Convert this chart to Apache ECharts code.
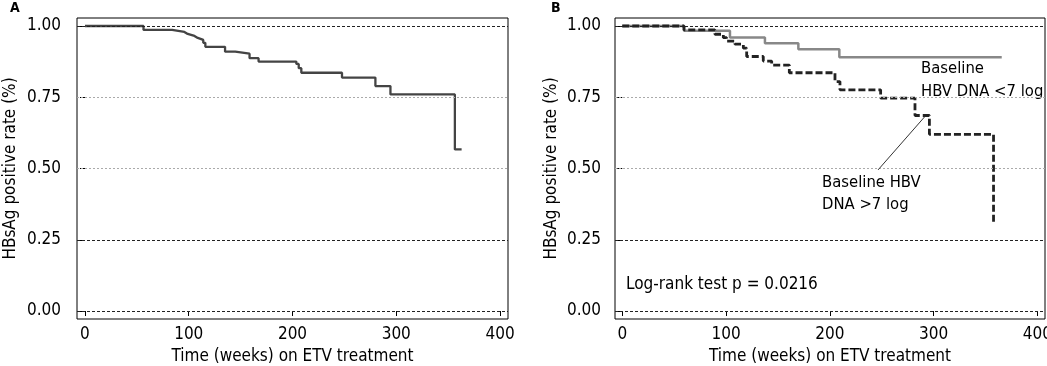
<!DOCTYPE html>
<html>
<head>
<meta charset="utf-8">
<script src="https://cdn.jsdelivr.net/npm/echarts@6/dist/echarts.min.js"></script>
<style>
html,body{margin:0;padding:0;background:#fff;}
#chart{width:1047px;height:366px;}
</style>
</head>
<body>
<div id="chart"></div>
<script>
// ---- data ----
const xTicks = [0, 100, 200, 300, 400];
const yTicks = [0, 0.25, 0.5, 0.75, 1];

// Panel A: overall
const aTimes = [0, 56.4, 84, 95.8, 99, 105.5, 108.7, 114, 116, 135, 144.8, 158.6, 167.3, 203.7, 206, 208.5, 247.7, 279.9, 294.4, 356.5, 363];
const aRates = [1.0, 0.986, 0.979, 0.972, 0.965, 0.958, 0.951, 0.941, 0.927, 0.910, 0.903, 0.887, 0.875, 0.867, 0.852, 0.836, 0.819, 0.789, 0.760, 0.567, 0.567];

// Panel B: baseline HBV DNA <7 log
const lowTimes = [0, 59.5, 103.8, 137.5, 169.7, 209.2, 365.7];
const lowRates = [1.0, 0.983, 0.960, 0.939, 0.918, 0.890, 0.890];

// Panel B: baseline HBV DNA >7 log
const highTimes = [0, 59.5, 89.3, 97.4, 100.6, 108.6, 116.7, 119.9, 135.9, 144, 161, 205, 209.8, 249, 282.1, 296, 357.8];
const highRates = [1.0, 0.986, 0.971, 0.959, 0.947, 0.936, 0.922, 0.893, 0.877, 0.863, 0.836, 0.805, 0.776, 0.747, 0.686, 0.620, 0.308];

// annotation pointer line (data coords)
const pointerX = [246.5, 291.8];
const pointerY = [0.495, 0.683];

const zip = (xs, ys) => xs.map((x, i) => [x, ys[i]]);

const FONT = "'DejaVu Sans Condensed', 'DejaVu Sans', sans-serif";
const TXT = '#000';

function gridLines() {
  const dark = {color: '#222', type: [3, 2], width: 1};
  const light = {color: '#aaa', type: [2, 2], width: 1};
  return {
    silent: true,
    symbol: 'none',
    label: {show: false},
    animation: false,
    data: [
      {yAxis: 0, lineStyle: dark},
      {yAxis: 0.25, lineStyle: dark},
      {yAxis: 0.5, lineStyle: light},
      {yAxis: 0.75, lineStyle: light},
      {yAxis: 1, lineStyle: dark}
    ]
  };
}

function xAxisCfg(idx, min, max) {
  return {
    type: 'value', gridIndex: idx, min: min, max: max,
    splitLine: {show: false},
    axisLine: {show: false},
    axisTick: {show: true, customValues: xTicks, length: 5, lineStyle: {color: '#000'}},
    axisLabel: {customValues: xTicks, fontSize: 17, color: TXT, fontFamily: FONT, margin: 7},
    name: 'Time (weeks) on ETV treatment',
    nameLocation: 'middle', nameGap: 27,
    nameTextStyle: {fontSize: 17, color: TXT, fontFamily: FONT}
  };
}
function yAxisCfg(idx, margin, gap) {
  return {
    type: 'value', gridIndex: idx, min: -0.028, max: 1.028,
    splitLine: {show: false},
    axisLine: {show: false},
    axisTick: {show: true, customValues: yTicks, length: 5, lineStyle: {color: '#000'}},
    axisLabel: {customValues: yTicks, fontSize: 17, color: TXT, fontFamily: FONT, margin: margin,
      formatter: v => v.toFixed(2)},
    name: 'HBsAg positive rate (%)',
    nameLocation: 'middle', nameGap: gap,
    nameTextStyle: {fontSize: 17, color: TXT, fontFamily: FONT}
  };
}

const chart = echarts.init(document.getElementById('chart'), null, {renderer: 'canvas'});
chart.setOption({
  animation: false,
  backgroundColor: '#fff',
  grid: [
    {left: 77, top: 18, width: 431, height: 301, show: true, borderColor: '#000', borderWidth: 1,
     backgroundColor: 'transparent', containLabel: false, outerBoundsMode: 'none'},
    {left: 615, top: 18, width: 430, height: 301, show: true, borderColor: '#000', borderWidth: 1,
     backgroundColor: 'transparent', containLabel: false, outerBoundsMode: 'none'}
  ],
  xAxis: [xAxisCfg(0, -7.7, 407.7), xAxisCfg(1, -7.0, 407.4)],
  yAxis: [yAxisCfg(0, 16, 58), yAxisCfg(1, 14, 55)],
  series: [
    {
      name: 'gridA', type: 'line', xAxisIndex: 0, yAxisIndex: 0, data: [],
      markLine: gridLines(), z: 1
    },
    {
      name: 'gridB', type: 'line', xAxisIndex: 1, yAxisIndex: 1, data: [],
      markLine: gridLines(), z: 1
    },
    {
      name: 'All', type: 'line', xAxisIndex: 0, yAxisIndex: 0, step: 'end',
      data: zip(aTimes, aRates), showSymbol: false, symbol: 'none',
      lineStyle: {color: '#444', width: 2.3}, z: 3
    },
    {
      name: 'Baseline HBV DNA <7 log', type: 'line', xAxisIndex: 1, yAxisIndex: 1, step: 'end',
      data: zip(lowTimes, lowRates), showSymbol: false, symbol: 'none',
      lineStyle: {color: '#888', width: 2.5}, z: 3
    },
    {
      name: 'Baseline HBV DNA >7 log', type: 'line', xAxisIndex: 1, yAxisIndex: 1, step: 'end',
      data: zip(highTimes, highRates), showSymbol: false, symbol: 'none',
      lineStyle: {color: '#222', width: 2.8, type: [7, 3]}, z: 4
    },
    {
      name: 'pointer', type: 'line', xAxisIndex: 1, yAxisIndex: 1,
      data: zip(pointerX, pointerY), showSymbol: false, symbol: 'none',
      lineStyle: {color: '#333', width: 1}, z: 5
    }
  ],
  graphic: [
    {type: 'text', left: 10, top: 1, style: {text: 'A', fontSize: 14, fontWeight: 'bold', fill: '#000', fontFamily: FONT}},
    {type: 'text', left: 551, top: 1, style: {text: 'B', fontSize: 14, fontWeight: 'bold', fill: '#000', fontFamily: FONT}},
    {type: 'text', left: 921, top: 57, style: {text: 'Baseline\nHBV DNA <7 log', fontSize: 16.5, lineHeight: 23, fill: TXT, fontFamily: FONT}},
    {type: 'text', left: 822, top: 172, style: {text: 'Baseline HBV\nDNA >7 log', fontSize: 16.5, lineHeight: 22, fill: TXT, fontFamily: FONT}},
    {type: 'text', left: 626, top: 276, style: {text: 'Log-rank test p = 0.0216', fontSize: 17, fill: TXT, fontFamily: FONT}}
  ]
});
</script>
</body>
</html>
